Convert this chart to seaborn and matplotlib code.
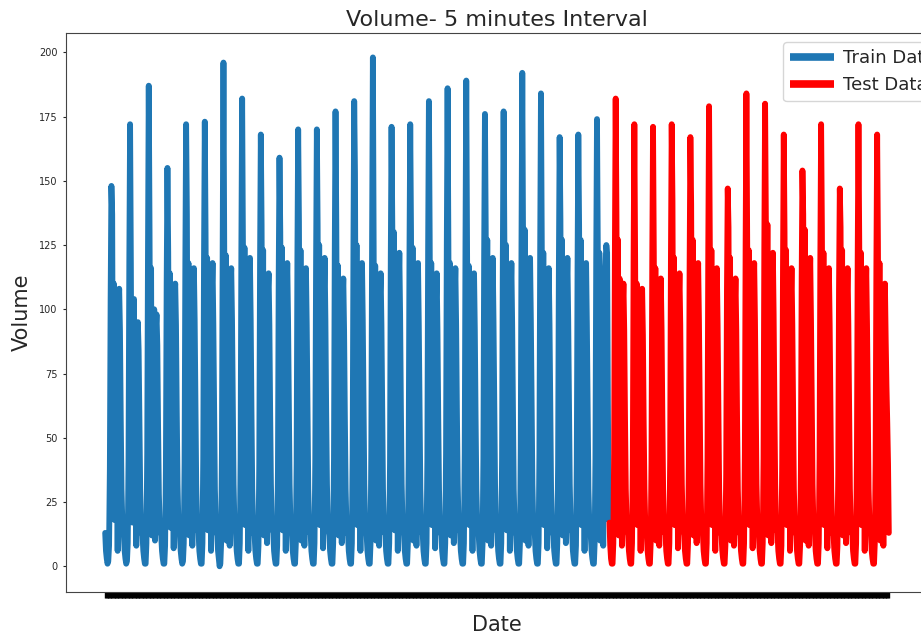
import matplotlib
matplotlib.use("Agg")
import matplotlib.pyplot as plt
import matplotlib.dates as mdates
import seaborn as sns
import numpy as np
import pandas as pd

# hourly volume readings, one line per day
train_volume = [
    13, 6, 3, 1, 2, 8, 38, 104, 148, 137, 42, 110, 18, 104, 64, 96, 6, 100, 108, 92, 58, 30, 18, 14,
    12, 6, 3, 1, 2, 9, 42, 118, 172, 118, 42, 17, 96, 104, 30, 92, 8, 86, 95, 84, 56, 30, 18, 13,
    12, 6, 3, 1, 1, 9, 44, 122, 187, 131, 56, 116, 12, 95, 70, 100, 10, 92, 98, 86, 54, 28, 17, 13,
    12, 6, 3, 1, 1, 8, 38, 110, 155, 122, 63, 114, 15, 105, 58, 108, 7, 104, 110, 94, 60, 32, 18, 14,
    12, 6, 3, 1, 2, 9, 40, 118, 172, 137, 48, 118, 12, 112, 62, 104, 8, 110, 116, 96, 62, 32, 18, 14,
    13, 6, 3, 1, 1, 9, 42, 120, 173, 130, 68, 120, 14, 102, 58, 112, 6, 106, 118, 94, 60, 30, 18, 13,
    12, 6, 3, 0, 1, 9, 44, 126, 196, 125, 50, 121, 10, 110, 62, 112, 8, 108, 116, 96, 62, 32, 18, 14,
    13, 6, 3, 1, 1, 9, 42, 124, 182, 126, 60, 124, 16, 108, 56, 118, 6, 104, 120, 96, 60, 30, 18, 13,
    12, 6, 3, 1, 1, 8, 40, 118, 168, 133, 54, 123, 12, 104, 62, 110, 9, 106, 114, 94, 60, 32, 18, 14,
    13, 6, 3, 1, 1, 8, 38, 114, 159, 130, 58, 124, 14, 106, 64, 116, 6, 104, 118, 96, 62, 32, 18, 14,
    12, 6, 3, 1, 1, 9, 40, 120, 170, 134, 52, 123, 10, 110, 60, 112, 8, 108, 116, 94, 60, 30, 18, 13,
    13, 6, 3, 1, 1, 9, 42, 118, 170, 133, 56, 125, 16, 102, 58, 118, 7, 104, 120, 96, 60, 32, 18, 14,
    12, 6, 3, 1, 1, 9, 42, 122, 177, 133, 60, 117, 12, 100, 50, 108, 9, 102, 112, 92, 58, 30, 17, 13,
    13, 6, 3, 1, 1, 9, 44, 124, 181, 153, 64, 125, 16, 104, 58, 114, 6, 106, 118, 96, 62, 32, 18, 14,
    12, 6, 3, 1, 1, 9, 46, 128, 198, 126, 52, 117, 10, 106, 56, 110, 8, 104, 114, 94, 60, 30, 18, 13,
    13, 6, 3, 1, 1, 9, 40, 120, 171, 131, 58, 130, 14, 112, 60, 120, 6, 106, 122, 98, 62, 32, 18, 14,
    12, 6, 3, 1, 1, 9, 42, 120, 172, 131, 54, 124, 10, 108, 58, 114, 8, 104, 118, 94, 60, 30, 18, 13,
    13, 6, 3, 1, 1, 9, 42, 124, 181, 128, 60, 118, 16, 102, 54, 110, 7, 102, 114, 92, 58, 30, 17, 13,
    12, 6, 3, 1, 1, 9, 44, 126, 186, 127, 56, 118, 12, 106, 58, 112, 9, 104, 116, 94, 60, 32, 18, 14,
    13, 6, 3, 1, 1, 9, 44, 126, 189, 126, 52, 117, 16, 104, 56, 110, 6, 102, 114, 92, 58, 30, 18, 13,
    12, 6, 3, 1, 1, 9, 42, 122, 176, 132, 60, 127, 10, 108, 60, 118, 8, 106, 120, 96, 62, 32, 18, 14,
    13, 6, 3, 1, 1, 9, 42, 122, 177, 125, 56, 125, 14, 104, 58, 116, 6, 104, 118, 94, 60, 30, 18, 13,
    12, 6, 3, 1, 1, 9, 46, 128, 192, 125, 58, 131, 10, 110, 60, 118, 8, 106, 120, 96, 62, 32, 18, 14,
    13, 6, 3, 1, 1, 9, 44, 124, 184, 128, 54, 122, 16, 104, 56, 112, 7, 104, 116, 94, 60, 30, 18, 13,
    12, 6, 3, 1, 1, 9, 40, 116, 167, 135, 60, 127, 12, 106, 58, 116, 9, 106, 120, 96, 62, 32, 18, 14,
    13, 6, 3, 1, 1, 8, 40, 116, 168, 133, 56, 127, 16, 108, 56, 114, 6, 104, 118, 94, 60, 30, 18, 13,
    12, 6, 3, 1, 1, 9, 42, 120, 174, 125, 56, 122, 10, 100, 56, 110, 8, 104, 112, 118, 125, 122, 64, 18,
]

test_volume = [
    17, 8, 3, 1, 1, 9, 44, 124, 182, 137, 64, 127, 12, 112, 60, 106, 8, 100, 110, 92, 58, 30, 18, 14,
    12, 6, 3, 1, 1, 9, 40, 118, 172, 120, 54, 110, 16, 100, 52, 104, 6, 96, 108, 90, 56, 30, 17, 13,
    12, 6, 3, 1, 1, 9, 40, 118, 171, 122, 58, 116, 10, 102, 56, 108, 8, 100, 112, 92, 58, 30, 18, 13,
    13, 6, 3, 1, 1, 9, 42, 120, 172, 142, 60, 120, 16, 104, 58, 110, 7, 102, 114, 94, 60, 32, 18, 14,
    12, 6, 3, 1, 1, 9, 40, 116, 167, 141, 62, 127, 12, 106, 60, 114, 9, 104, 118, 96, 62, 32, 18, 14,
    13, 6, 3, 1, 1, 9, 42, 124, 179, 125, 56, 123, 16, 104, 56, 112, 6, 102, 116, 94, 60, 30, 18, 13,
    12, 6, 3, 1, 1, 8, 36, 108, 147, 132, 58, 120, 10, 100, 54, 108, 8, 100, 112, 92, 58, 30, 17, 13,
    13, 6, 3, 1, 1, 9, 44, 126, 184, 127, 60, 123, 16, 106, 58, 114, 7, 104, 118, 96, 62, 32, 18, 14,
    12, 6, 3, 1, 1, 9, 42, 124, 180, 135, 62, 133, 12, 110, 60, 120, 9, 106, 122, 98, 62, 32, 18, 14,
    13, 6, 3, 1, 1, 8, 40, 116, 168, 130, 56, 123, 16, 104, 56, 112, 6, 102, 116, 94, 60, 30, 18, 13,
    12, 6, 3, 1, 1, 8, 38, 112, 154, 137, 62, 131, 10, 108, 58, 116, 8, 106, 120, 96, 62, 32, 18, 14,
    13, 6, 3, 1, 1, 9, 42, 120, 172, 132, 58, 122, 16, 104, 56, 112, 7, 102, 116, 94, 60, 30, 18, 13,
    12, 6, 3, 1, 1, 8, 36, 108, 147, 132, 60, 123, 12, 102, 56, 112, 9, 102, 116, 94, 60, 30, 17, 13,
    13, 6, 3, 1, 1, 9, 42, 120, 172, 126, 56, 122, 16, 104, 58, 112, 6, 102, 116, 94, 60, 30, 18, 13,
    12, 6, 3, 1, 1, 9, 40, 116, 168, 126, 58, 118, 10, 100, 56, 108, 8, 100, 110, 88, 70, 56, 40, 13,
]

assert len(train_volume) == 27 * 24 and len(test_volume) == 15 * 24

start_date = "2018-01-01 00:00"
y_ticks = [0, 25, 50, 75, 100, 125, 150, 175, 200]

dates = pd.date_range(start_date, periods=len(train_volume) + len(test_volume), freq="h")
train = pd.DataFrame({"Date": dates[:len(train_volume)], "Volume": train_volume})
test = pd.DataFrame({"Date": dates[len(train_volume):], "Volume": test_volume})

sns.set_style("ticks")
plt.rcParams['font.family'] = ['DejaVu Sans']

fig = plt.figure(figsize=(9.21, 6.36), dpi=100)
ax = fig.add_axes([66 / 921, 44 / 636, 862 / 921, 559 / 636])

sns.lineplot(data=train, x="Date", y="Volume", ax=ax, color="#1f77b4",
             linewidth=4.2, estimator=None, label="Train Data")
sns.lineplot(data=test, x="Date", y="Volume", ax=ax, color="red",
             linewidth=4.2, estimator=None, label="Test Data")

ax.set_ylim(-10, 207.5)
ax.set_yticks(y_ticks)
ax.tick_params(axis="y", labelsize=7, length=2.5, width=0.8)

# every timestamp gets a tick: the labels crowd into a solid band
ax.set_xticks(mdates.date2num(dates))
ax.tick_params(axis="x", labelbottom=False, length=4.5, width=1.0, color="black")

ax.set_title("Volume- 5 minutes Interval", fontsize=16, pad=5)
ax.set_ylabel("Volume", fontsize=15, labelpad=5)
ax.set_xlabel("Date", fontsize=15, labelpad=12)

leg = ax.legend(loc="upper left", bbox_to_anchor=(783 / 921, 1 - 42 / 636),
                bbox_transform=fig.transFigure, borderaxespad=0,
                fontsize=13, handlelength=2.4, handletextpad=0.55)
for line in leg.get_lines():
    line.set_linewidth(5.5)
    line.set_solid_capstyle("butt")

for s in ax.spines.values():
    s.set_visible(True)
    s.set_color("#444444")

fig.savefig("out.png", dpi=100)
